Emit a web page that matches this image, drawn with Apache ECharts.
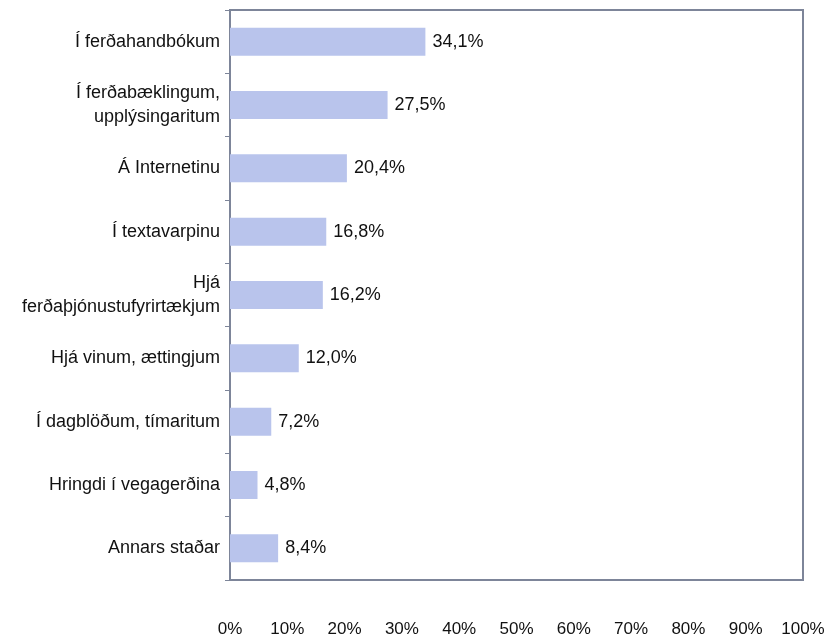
<!DOCTYPE html>
<html>
<head>
<meta charset="utf-8">
<script src="https://cdn.jsdelivr.net/npm/echarts@6/dist/echarts.min.js"></script>
<style>
  html, body { margin: 0; padding: 0; background: #fff; }
  #chart { width: 829px; height: 640px; }
</style>
</head>
<body>
<div id="chart"></div>
<script>
// Where respondents looked for information (share of answers, %)
const categories = [
  'Í ferðahandbókum',
  'Í ferðabæklingum,\nupplýsingaritum',
  'Á Internetinu',
  'Í textavarpinu',
  'Hjá\nferðaþjónustufyrirtækjum',
  'Hjá vinum, ættingjum',
  'Í dagblöðum, tímaritum',
  'Hringdi í vegagerðina',
  'Annars staðar'
];
const shares = [34.1, 27.5, 20.4, 16.8, 16.2, 12.0, 7.2, 4.8, 8.4];
const axisMin = 0;
const axisMax = 100;
const axisStep = 10;

const FONT = '"Liberation Sans Narrow", "Arial Narrow", "Liberation Sans", Arial, sans-serif';
const frameColor = '#7d8599';
const fmtPct = v => v.toFixed(1).replace('.', ',') + '%';

const chart = echarts.init(document.getElementById('chart'));
chart.setOption({
  animation: false,
  textStyle: { fontFamily: FONT },
  grid: {
    left: 230, right: 26, top: 10, bottom: 60,
    show: true, borderColor: frameColor, borderWidth: 2, backgroundColor: 'transparent'
  },
  xAxis: {
    type: 'value',
    min: axisMin, max: axisMax, interval: axisStep,
    axisLine: { show: true, lineStyle: { color: frameColor, width: 2 } },
    axisTick: { show: false },
    splitLine: { show: false },
    axisLabel: {
      margin: 41,
      color: '#111',
      fontSize: 17,
      fontFamily: FONT,
      formatter: '{value}%'
    }
  },
  yAxis: {
    type: 'category',
    inverse: true,
    data: categories,
    axisLine: { show: true, lineStyle: { color: frameColor, width: 2 } },
    axisTick: { show: true, length: 5, lineStyle: { color: frameColor, width: 1 } },
    axisLabel: {
      margin: 10,
      color: '#111',
      fontSize: 18,
      lineHeight: 24,
      align: 'right',
      fontFamily: FONT
    }
  },
  series: [{
    type: 'bar',
    data: shares,
    barWidth: 28,
    itemStyle: { color: '#b9c4ec' },
    label: {
      show: true,
      position: 'right',
      distance: 7,
      color: '#111',
      fontSize: 18,
      fontFamily: FONT,
      formatter: p => fmtPct(p.value)
    }
  }]
});
</script>
</body>
</html>
